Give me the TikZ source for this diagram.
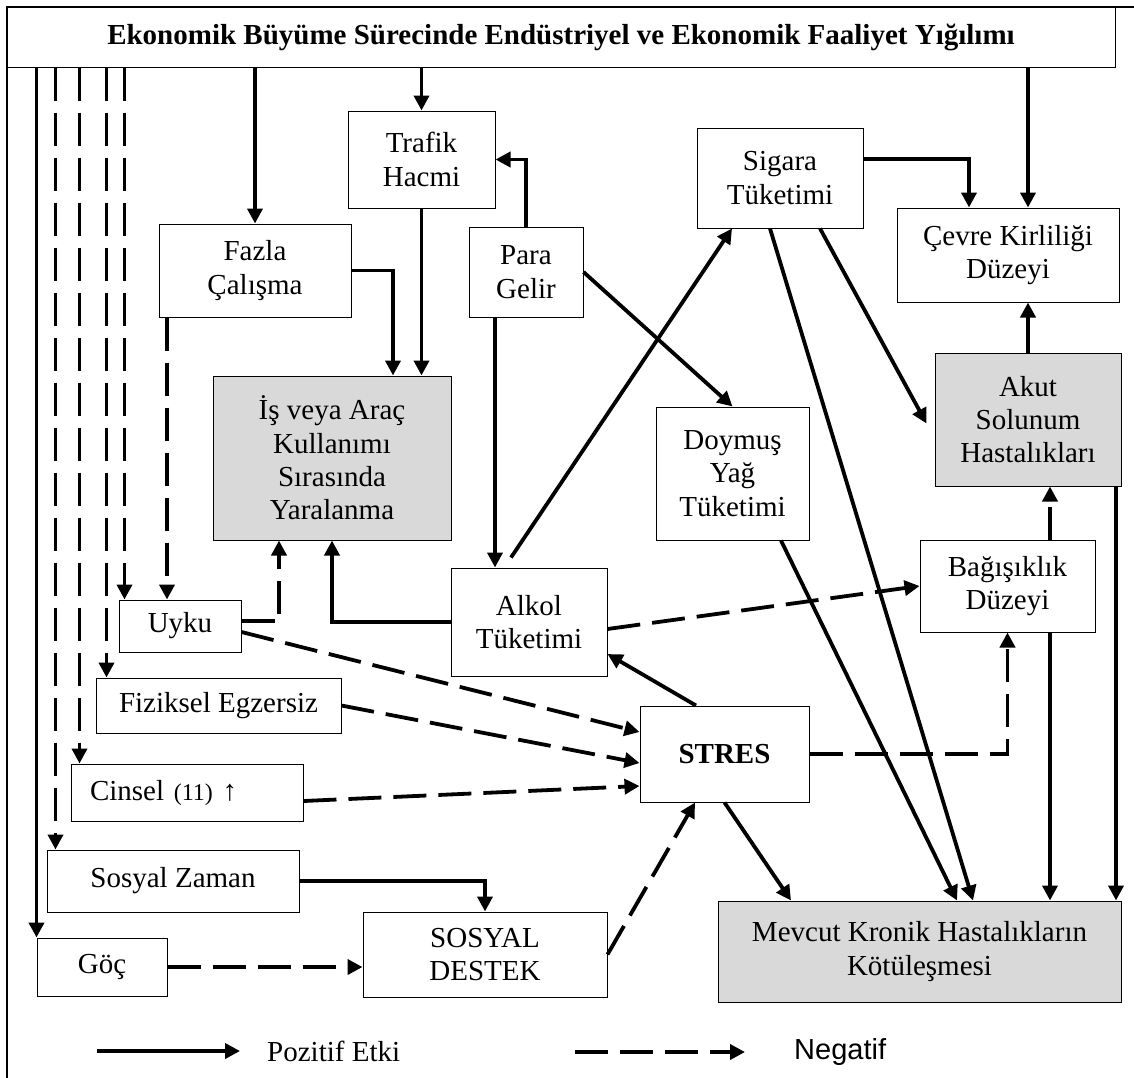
\documentclass[tikz,border=0pt]{standalone}
\usepackage{fontspec}
\setmainfont{Liberation Serif}
\newfontfamily\arialfont{Liberation Sans}
\usetikzlibrary{arrows.meta}

\begin{document}
\begin{tikzpicture}[x=1pt, y=-1pt, font=\fontsize{29}{33.4}\selectfont, line join=miter, >={Triangle[length=15pt,width=15pt]},
	box/.style={draw, line width=1pt, align=center, inner sep=2pt},
	gbox/.style={box, fill=black!15},
	posline/.style={line width=3.8pt, ->},
	negline/.style={posline, dash pattern=on 33pt off 12pt}]
	\useasboundingbox (0,0) rectangle (1134,1077);
	\draw[line width=2pt] (1150,7) -- (7,7) -- (7,1090);
	\node[box, minimum width=1108pt, minimum height=60pt] (title) at (561,37) {\bfseries Ekonomik Büyüme Sürecinde Endüstriyel ve Ekonomik Faaliyet Yığılımı};
	\node[box, minimum width=147pt, minimum height=97pt] (trafik) at (421.5,159.5) {Trafik\\Hacmi};
	\node[box, minimum width=192pt, minimum height=93pt] (fazla) at (255,270.5) {Fazla\\Çalışma};
	\node[box, minimum width=114pt, minimum height=90pt] (para) at (526,272) {Para\\Gelir};
	\node[box, minimum width=166pt, minimum height=100pt] (sigara) at (780,178) {Sigara\\Tüketimi};
	\node[box, minimum width=222pt, minimum height=94pt] (cevre) at (1008,255) {Çevre Kirliliği\\Düzeyi};
	\node[gbox, minimum width=238pt, minimum height=164pt] (is) at (332,458) {İş veya Araç\\Kullanımı\\Sırasında\\Yaralanma};
	\node[box, minimum width=153pt, minimum height=133pt] (doymus) at (732.5,473.5) {Doymuş\\Yağ\\Tüketimi};
	\node[gbox, minimum width=186pt, minimum height=133pt] (akut) at (1028,419.5) {Akut\\Solunum\\Hastalıkları};
	\node[box, minimum width=156pt, minimum height=108pt] (alkol) at (529,622) {Alkol\\Tüketimi};
	\node[box, minimum width=175pt, minimum height=92pt] (bagisiklik) at (1007.5,586) {Bağışıklık\\Düzeyi};
	\node[box, minimum width=122pt, minimum height=52pt] (uyku) at (180,626) {Uyku};
	\node[box, minimum width=245pt, minimum height=55pt] (fiziksel) at (218.5,705.5) {Fiziksel Egzersiz};
	\node[box, minimum width=169pt, minimum height=96pt] (stres) at (724.5,754) {\bfseries STRES};
	\node[box, text width=194pt, align=left, inner xsep=19pt, minimum height=57pt] (cinsel) at (187,792.5) {Cinsel {\fontsize{24}{28}\selectfont(11)} ↑};
	\node[box, minimum width=252pt, minimum height=62pt] (szaman) at (173,881) {Sosyal Zaman};
	\node[box, minimum width=130pt, minimum height=58pt] (goc) at (102,967) {Göç};
	\node[box, minimum width=244pt, minimum height=85pt] (destek) at (485,954.5) {SOSYAL\\DESTEK};
	\node[gbox, minimum width=403pt, minimum height=101pt] (mevcut) at (919.5,951.5) {Mevcut Kronik Hastalıkların\\Kötüleşmesi};
	% from the top box
	\draw[posline] (fazla.north |- title.south) -- (fazla.north);
	\draw[posline] (trafik.north |- title.south) -- (trafik.north);
	\draw[posline] (akut.north |- title.south) -- (akut.north |- cevre.north);
	\draw[posline] (goc.north west |- title.south) -- (goc.north west);
	\foreach \n/\s in {szaman/9,cinsel/9,fiziksel/11,uyku/6}
	\draw[negline] ([xshift=\s pt]\n.north west |- title.south) -- ([xshift=\s pt]\n.north west);
	\draw[posline] (para.north) |- (trafik.east);
	\draw[posline] (fazla.east) -| ([xshift=61pt]is.north);
	\draw[posline] (trafik.south) -- (trafik.south |- is.north);
	\draw[negline] ([xshift=-88pt]fazla.south) -- ([xshift=-88pt]fazla.south |- uyku.north);
	\draw[posline] ([xshift=-31pt]para.south) -- ([xshift=-31pt]para.south |- alkol.north);
	\draw[posline] (para.east) -- (doymus.north);
	\draw[posline] ([xshift=-18pt,yshift=10pt]alkol.north) -- ([xshift=-48pt]sigara.south);
	\draw[posline] ([yshift=19pt]sigara.east) -| ([xshift=-39pt]cevre.north);
	\draw[posline] ([xshift=40pt]sigara.south) -- ([xshift=-8pt,yshift=-4pt]akut.west);
	\draw[posline] ([xshift=-10pt]sigara.south) -- ([xshift=53.5pt]mevcut.north);
	\draw[posline] (akut.north) -- (akut.north |- cevre.south);
	\draw[posline] ([xshift=48.5pt]doymus.south) -- ([xshift=37.5pt]mevcut.north);
	\draw[posline] ([xshift=88pt]akut.south) -- ([xshift=88pt]akut.south |- mevcut.north);
	\draw[posline] ([xshift=42.5pt]bagisiklik.south) -- ([xshift=42.5pt]bagisiklik.south |- mevcut.north);
	\draw[negline] ([xshift=42.5pt]bagisiklik.north) -- ([xshift=42.5pt]bagisiklik.north |- akut.south);
	\draw[negline] ([yshift=-7pt]alkol.east) -- (bagisiklik.west);
	\draw[posline] ([xshift=-28.5pt]stres.north) -- ([yshift=-32pt]alkol.east);
	\draw[posline] (alkol.west) -| (is.south);
	\draw[negline] ([yshift=5pt]uyku.east) -| ([xshift=-53pt]is.south);
	\draw[negline] ([yshift=-6pt]uyku.east) -- ([yshift=22pt]stres.west);
	\draw[negline] (fiziksel.east) -- ([yshift=-9pt]stres.west);
	\draw[negline] ([yshift=-8.5pt]cinsel.east) -- ([yshift=-32pt]stres.west);
	\draw[negline] (stres.east) -| (bagisiklik.south);
	\draw[posline] (stres.south) -- ([xshift=-128.5pt]mevcut.north);
	\draw[posline] (szaman.east) -| (destek.north);
	\draw[negline] (goc.east) -- (goc.east -| destek.west);
	\draw[negline] (destek.east) -- ([xshift=-29.5pt]stres.south);
	% legend
	\coordinate (p1) at (97,1051);
	\coordinate (p2) at (240,1051);
	\coordinate (n1) at (575,1052);
	\coordinate (n2) at (745,1052);
	\draw[posline] (p1) -- (p2);
	\draw[negline] (n1) -- (n2);
	\node[anchor=west, inner sep=0pt] (lpos) at (267,1051) {Pozitif Etki};
	\node[anchor=west, inner sep=0pt] (lneg) at (794,1052) {\arialfont Negatif};
\end{tikzpicture}
\end{document}
